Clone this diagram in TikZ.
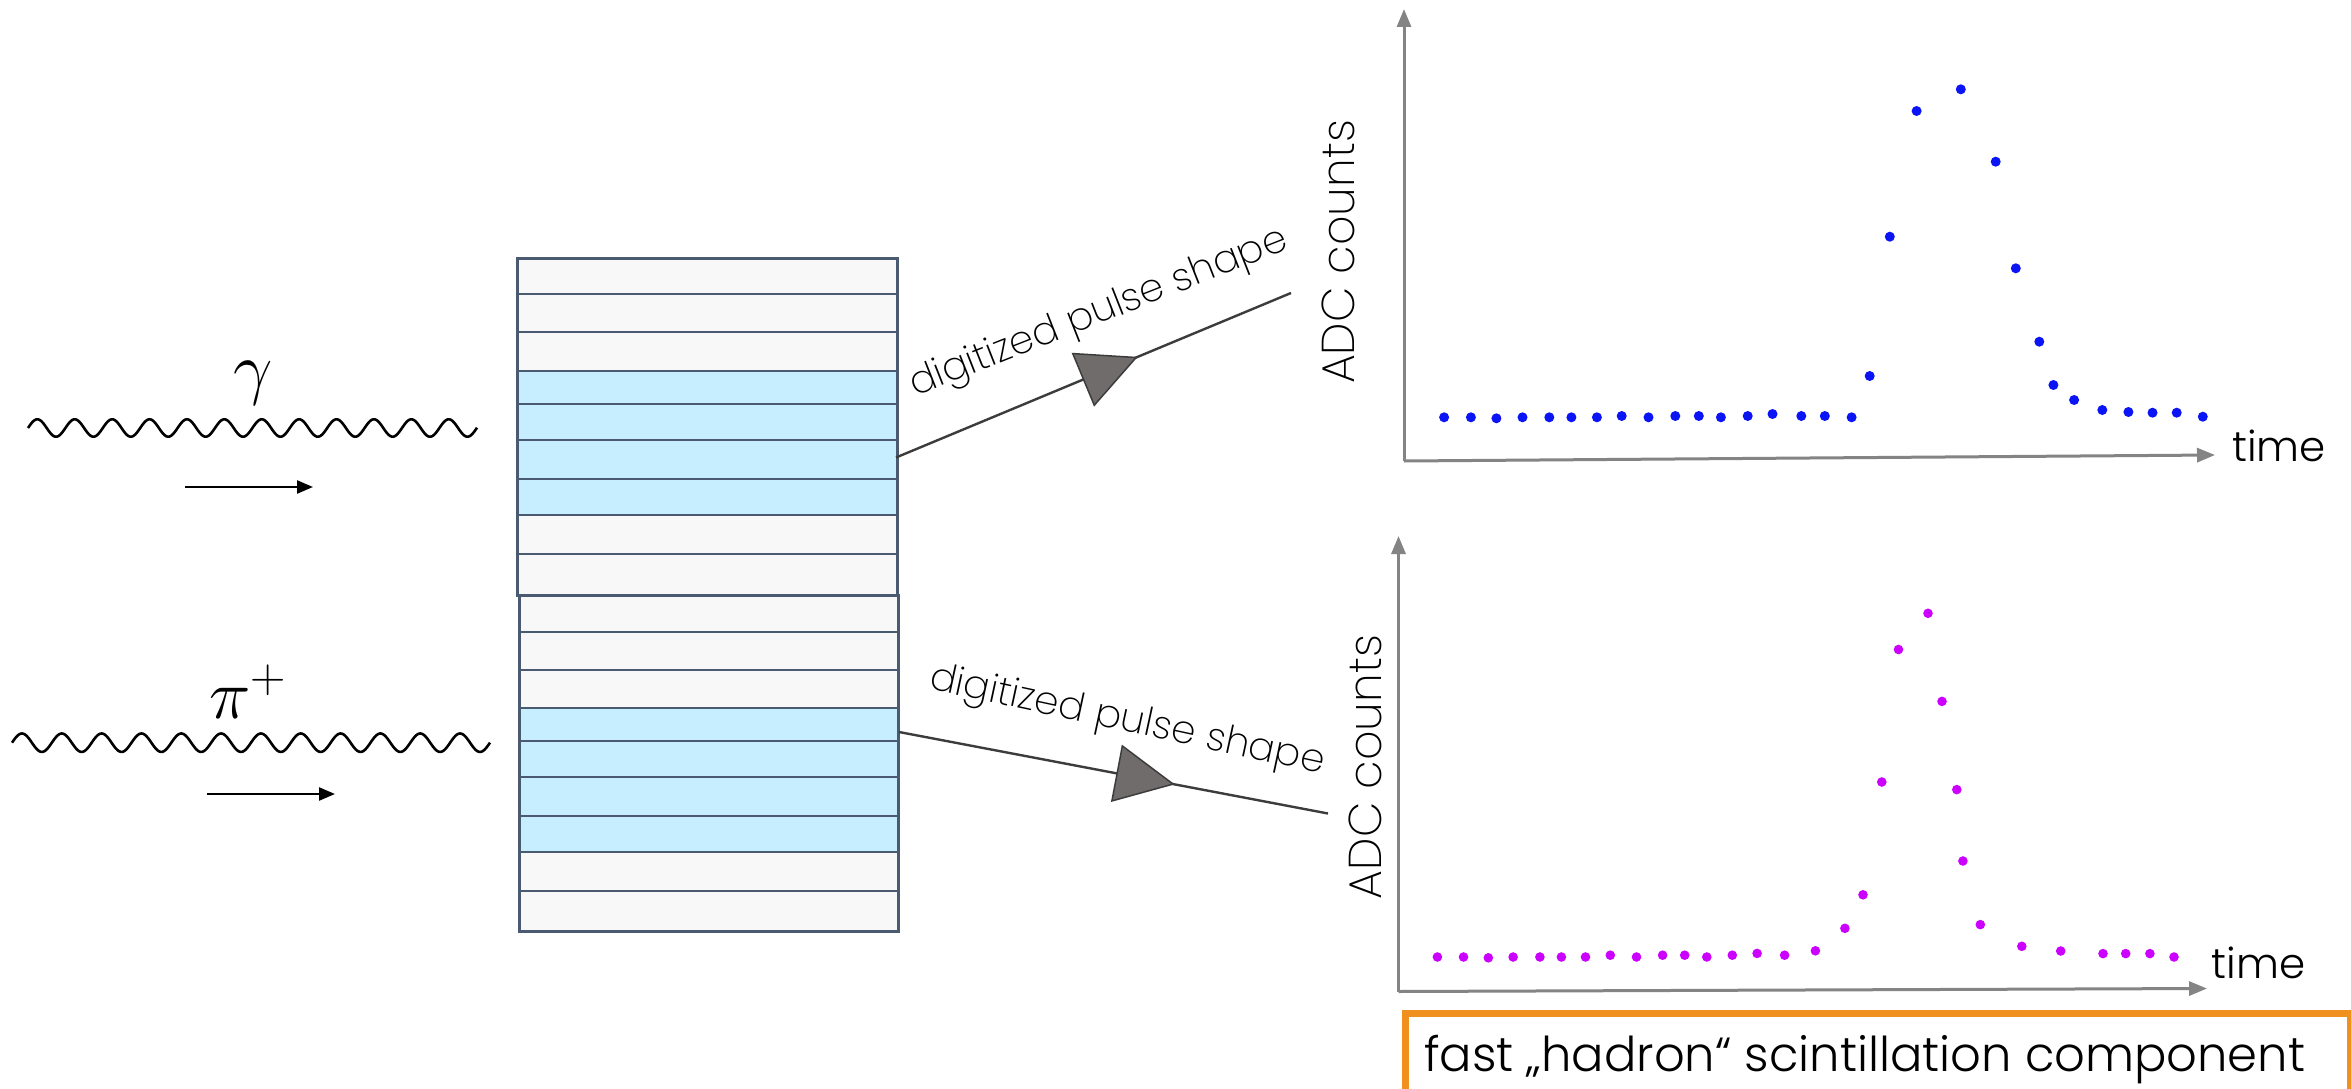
\RequirePackage{fix-cm}
\documentclass[tikz,border=0pt]{standalone}
\usepackage{fontspec}
\newfontfamily\thinfont{Poppins Light}
\newfontfamily\xthinfont{Poppins ExtraLight}
\usetikzlibrary{arrows.meta,decorations.markings}
\definecolor{layerblue}{HTML}{C6EEFF}
\definecolor{layerwhite}{HTML}{F8F8F8}
\definecolor{stackedge}{HTML}{4A5A70}
\definecolor{axisgray}{HTML}{848484}
\definecolor{dotblue}{HTML}{0A14F5}
\definecolor{dotmag}{HTML}{CC00FF}
\definecolor{boxorange}{HTML}{F0901E}
\definecolor{conn}{HTML}{3C3C3C}
\definecolor{trifill}{HTML}{706C6C}
\tikzset{
  wave/.style={line width=2.6pt, black},
  dirarrow/.style={line width=2.4pt, -{Triangle[length=16pt,width=13pt]}},
  layerline/.style={draw=stackedge, line width=2pt},
  stackframe/.style={draw=stackedge, line width=3pt, inner sep=0pt},
  axis/.style={draw=axisgray, line width=3pt, -{Triangle[length=18pt,width=14pt]}},
  connector/.style={draw=conn, line width=2.4pt, postaction={decorate},
    decoration={markings, mark=at position #1 with {\filldraw[fill=trifill, draw=conn, line width=1.5pt] (0pt,0pt) -- (-57pt,28pt) -- (-57pt,-28pt) -- cycle;}}},
  pulselabel/.style={font=\xthinfont\fontsize{39}{43}\selectfont, inner sep=0pt},
  adclabel/.style={font=\xthinfont\fontsize{46}{50}\selectfont, inner sep=0pt, rotate=90},
  timelabel/.style={font=\thinfont\fontsize{42}{46}\selectfont, inner sep=0pt},
  particle/.style={font=\fontsize{70}{76}\selectfont, inner sep=0pt},
}
\begin{document}
\begin{tikzpicture}[x=1pt,y=-1pt]
\useasboundingbox (0,0) rectangle (2351,1089);
\fill[white] (0,0) rectangle (2351,1089);
\clip (0,0) rectangle (2351,1089);

% incoming particles
\draw[wave] plot[domain=0:449,samples=600] ({28+\x},{428-8.7*sin(\x/37.4*360)});
\node[particle, anchor=base] (gam) at (253,391) {$\gamma$};
\coordinate (ga1) at (185,487);
\coordinate (ga2) at (313,487);
\draw[dirarrow] (ga1) -- (ga2);

\draw[wave] plot[domain=0:478,samples=600] ({12+\x},{742.7-9.2*sin(\x/39.83*360)});
\node[particle, anchor=base] (pip) at (248,718) {$\pi^+$};
\coordinate (pa1) at (207,794);
\coordinate (pa2) at (335,794);
\draw[dirarrow] (pa1) -- (pa2);

% top stack
\fill[layerwhite] (516,257) rectangle (895.5,370.8);
\fill[layerblue] (516,370.8) rectangle (895.5,514.5);
\fill[layerwhite] (516,514.5) rectangle (895.5,593.5);
\foreach \yy in {293.6,332.4,370.8,404.3,440,478.8,514.5,553.8}
  \draw[layerline] (516,\yy) -- (895.5,\yy);
\node[stackframe, anchor=north west, minimum width=379.5pt, minimum height=336.5pt] (stackA) at (516,257) {};

% bottom stack
\fill[layerwhite] (517.5,593.5) rectangle (897,707.9);
\fill[layerblue] (517.5,707.9) rectangle (897,851.6);
\fill[layerwhite] (517.5,851.6) rectangle (897,929.7);
\foreach \yy in {631.5,669.5,707.9,741.3,777,815.9,851.6,890.9}
  \draw[layerline] (517.5,\yy) -- (897,\yy);
\node[stackframe, anchor=north west, minimum width=379.5pt, minimum height=336.2pt] (stackB) at (517.5,593.5) {};

% connectors
\coordinate (c1s) at (896,457.5);
\coordinate (c1e) at (1291,293);
\draw[connector=0.608] (c1s) -- (c1e);
\node[pulselabel, rotate=21.5] (pulse1) at (1099,314) {digitized pulse shape};

\coordinate (c2s) at (899,732);
\coordinate (c2e) at (1328,813.5);
\draw[connector=0.639] (c2s) -- (c2e);
\node[pulselabel, rotate=-12.2] (pulse2) at (1127,722) {digitized pulse shape};

% top plot
\coordinate (o1) at (1404,461);
\coordinate (y1) at (1404,9);
\coordinate (x1) at (2215,455);
\draw[axis] (o1) -- (y1);
\draw[axis] (o1) -- (x1);
\node[adclabel] (adc1) at (1338.5,252) {ADC counts};
\node[timelabel] (time1) at (2279,446) {time};
\foreach \px/\py in {1444.1/417.3,1470.9/417.3,1496.4/418.3,1522.5/417.3,1549.3/417.3,1571.4/417.3,1596.9/417.3,1621.7/416,1648.5/417.3,1675.3/416,1698.8/416,1720.9/417.3,1747.7/416,1772.5/414,1801.3/416,1824.8/416,1851.6/417.3,1869.7/376,1889.8/236.7,1916.6/111,1960.8/89.3,1995.7/161.7,2015.8/268.3,2039.3/341.7,2053.4/385,2074.1/400,2102.3/410,2128.4/412,2152.5/412.7,2176.7/412.7,2202.8/416.7}
  \fill[dotblue] (\px,\py) circle[radius=5pt];

% bottom plot
\coordinate (o2) at (1398.5,991.5);
\coordinate (y2) at (1398.5,536);
\coordinate (x2) at (2207,988.5);
\draw[axis] (o2) -- (y2);
\draw[axis] (o2) -- (x2);
\node[adclabel] (adc2) at (1365.5,767) {ADC counts};
\node[timelabel] (time2) at (2258.5,963) {time};
\foreach \px/\py in {1437.4/957,1463.5/957,1488.3/957.8,1513.1/957,1539.9/957,1561.4/957,1585.5/957,1610.3/955.2,1636.5/957,1662.6/955.2,1684.7/955.2,1706.8/957,1732.3/955.2,1757.1/953.4,1784.6/955.2,1815.4/950.8,1844.9/928.3,1863/894.8,1881.8/782,1898.5/649.5,1928/613.3,1942/701.4,1956.8/789.6,1962.9/861,1980.3/924.6,2021.8/946.3,2060.7/951,2103/953.6,2125.7/953.6,2149.9/953.6,2174/957}
  \fill[dotmag] (\px,\py) circle[radius=4.8pt];

% highlight box
\node[draw=boxorange, line width=7pt, anchor=north west, minimum width=945.5pt, minimum height=140pt, inner sep=0pt] (fastbox) at (1401.5,1009.5) {};
\node[font=\thinfont\fontsize{48}{52}\selectfont, anchor=base, inner sep=0pt] (fasttext) at (1864.7,1071.5) {fast „hadron“ scintillation component};
\end{tikzpicture}
\end{document}
